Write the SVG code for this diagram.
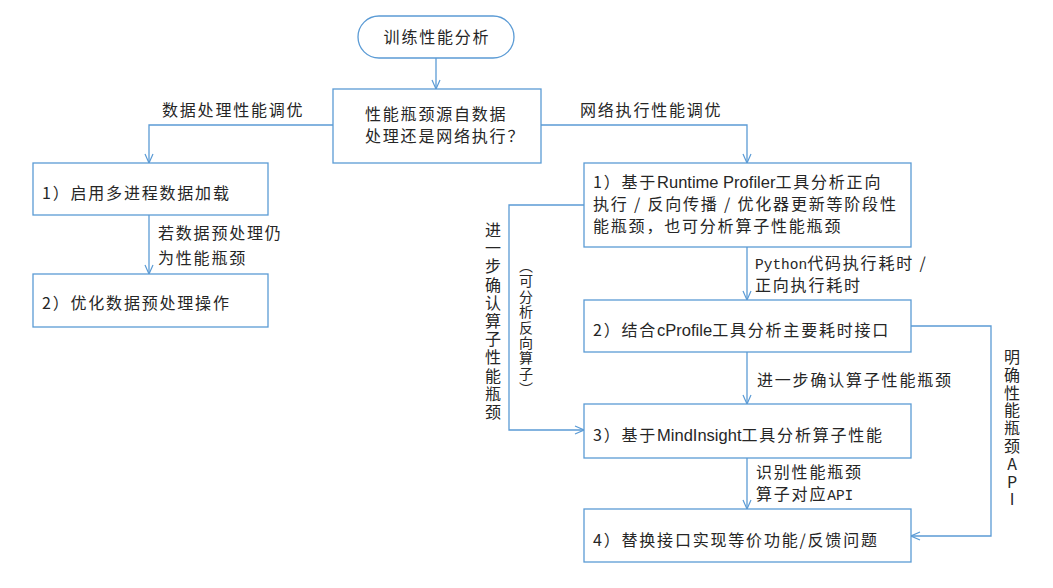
<svg xmlns="http://www.w3.org/2000/svg" width="1053" height="588" viewBox="0 0 1053 588">
<style>
.box{fill:#fff;stroke:#5B9BD5;stroke-width:1.3}
.ln{fill:none;stroke:#5B9BD5;stroke-width:1.3}
text{font-family:"Noto Sans CJK SC","Liberation Sans",sans-serif;font-size:16px;fill:#262626;letter-spacing:1.8px}
.lat{font-family:"Liberation Sans",sans-serif;letter-spacing:0;font-size:16.5px}
.mono{font-family:"Liberation Mono",monospace;letter-spacing:0;font-size:14.5px}
.vert{writing-mode:vertical-rl;text-orientation:upright}
.vmix{writing-mode:vertical-rl;text-orientation:mixed}
</style>
<defs>
<marker id="arr" viewBox="0 0 10 10" refX="10" refY="5" markerWidth="10" markerHeight="10" markerUnits="userSpaceOnUse" orient="auto">
<path d="M1,1 L10,5 L1,9" fill="none" stroke="#5B9BD5" stroke-width="1.2"/>
</marker>
</defs>
<rect width="1053" height="588" fill="#fff"/>
<g id="connectors">
<path class="ln" d="M436,58 V89" marker-end="url(#arr)"/>
<path class="ln" d="M333,125 H149 V163" marker-end="url(#arr)"/>
<path class="ln" d="M541,125 H747 V163" marker-end="url(#arr)"/>
<path class="ln" d="M149,215 V274" marker-end="url(#arr)"/>
<path class="ln" d="M747,247 V300" marker-end="url(#arr)"/>
<path class="ln" d="M747,352 V404" marker-end="url(#arr)"/>
<path class="ln" d="M747,458 V509" marker-end="url(#arr)"/>
<path class="ln" d="M584,205 H509 V430 H584" marker-end="url(#arr)"/>
<path class="ln" d="M911,326 H991 V536 H911" marker-end="url(#arr)"/>
<text x="162" y="116">数据处理性能调优</text>
<text x="580" y="116">网络执行性能调优</text>
<text x="158" y="239">若数据预处理仍</text>
<text x="158" y="264">为性能瓶颈</text>
<text x="755" y="269"><tspan class="mono">Python</tspan>代码执行耗时 /</text>
<text x="755" y="291">正向执行耗时</text>
<text x="757" y="386">进一步确认算子性能瓶颈</text>
<text x="756" y="478">识别性能瓶颈</text>
<text x="756" y="500">算子对应<tspan class="mono">API</tspan></text>
<text class="vert" x="493" y="222" style="letter-spacing:2.2px">进一步确认算子性能瓶颈</text>
<text class="vmix" x="526" y="258.6" style="font-size:14px;letter-spacing:1.4px">（可分析反向算子）</text>
<text class="vert" x="1012" y="349" style="letter-spacing:1.8px">明确性能瓶颈API</text>
</g>
<g id="start">
<rect class="box" x="358" y="16" width="156" height="42" rx="21"/>
<text x="437" y="43" text-anchor="middle">训练性能分析</text>
</g>
<g id="decision">
<rect class="box" x="333" y="89" width="208" height="74"/>
<text x="365" y="120">性能瓶颈源自数据</text>
<text x="365" y="142">处理还是网络执行？</text>
</g>
<g id="L1">
<rect class="box" x="33" y="163" width="235" height="52"/>
<text x="42" y="199">1）启用多进程数据加载</text>
</g>
<g id="L2">
<rect class="box" x="33" y="274" width="235" height="53"/>
<text x="42" y="309">2）优化数据预处理操作</text>
</g>
<g id="R1">
<rect class="box" x="584" y="163" width="327" height="84"/>
<text x="593" y="188">1）基于<tspan class="lat">Runtime Profiler</tspan>工具分析正向</text>
<text x="593" y="210">执行 / 反向传播 / 优化器更新等阶段性</text>
<text x="593" y="232">能瓶颈，也可分析算子性能瓶颈</text>
</g>
<g id="R2">
<rect class="box" x="584" y="300" width="327" height="52"/>
<text x="593" y="336">2）结合<tspan class="lat">cProfile</tspan>工具分析主要耗时接口</text>
</g>
<g id="R3">
<rect class="box" x="584" y="404" width="327" height="54"/>
<text x="593" y="441">3）基于<tspan class="lat">MindInsight</tspan>工具分析算子性能</text>
</g>
<g id="R4">
<rect class="box" x="584" y="509" width="327" height="53"/>
<text x="593" y="546">4）替换接口实现等价功能/反馈问题</text>
</g>
</svg>
